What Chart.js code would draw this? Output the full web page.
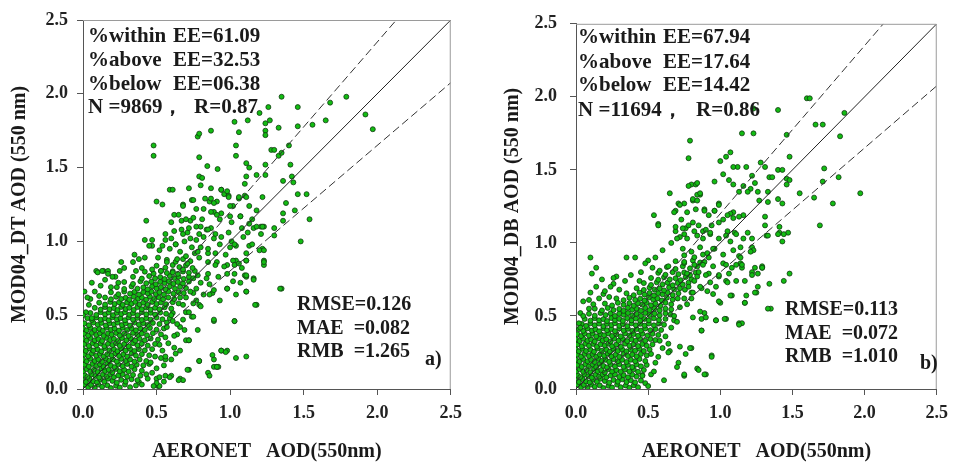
<!DOCTYPE html>
<html>
<head>
<meta charset="utf-8">
<script src="https://cdn.jsdelivr.net/npm/chart.js@4.4.1/dist/chart.umd.min.js"></script>
<style>
  html, body { margin: 0; padding: 0; background: #fff; }
  body { width: 956px; height: 463px; position: relative; overflow: hidden; }
  canvas { position: absolute; top: 0; }
</style>
</head>
<body>
<canvas id="dtChart" width="470" height="463" style="left:0px"></canvas>
<canvas id="dbChart" width="466" height="463" style="left:490px"></canvas>
<script>
// axis ticks (both panels)
const axisTicks = [0, 0.5, 1.0, 1.5, 2.0, 2.5];

// reference lines: 1:1 and expected error envelope +-(0.05 + 15%)
const oneToOne = [[0, 0], [2.5, 2.5]];
const eeUpper = [[0, 0.05], [2.13, 2.5]];
const eeLower = [[0.059, 0], [2.5, 2.075]];

// panel a) MOD04_DT - scattered points
const dtScatter = [
  [1.79,1.98],[1.68,1.94],[1.35,1.98],[1.46,1.91],[1.26,1.91],[1.92,1.86],[1.65,1.82],[1.03,1.81],[1.12,1.82],[1.20,1.87],
  [1.27,1.82],[1.46,1.78],[1.56,1.79],[1.97,1.76],[1.33,1.77],[1.06,1.74],[1.24,1.75],[1.24,1.72],[1.24,1.80],[0.87,1.75],
  [0.78,1.71],[0.79,1.73],[1.04,1.65],[0.48,1.65],[0.48,1.58],[0.79,1.57],[1.04,1.58],[1.33,1.58],[1.35,1.60],[1.40,1.65],
  [1.28,1.62],[1.30,1.62],[1.11,1.53],[1.13,1.50],[1.24,1.52],[1.41,1.52],[0.845,1.51],[0.915,1.49],[1.11,1.44],[1.18,1.45],
  [1.24,1.45],[1.42,1.44],[1.36,1.41],[1.43,1.40],[0.79,1.44],[0.81,1.43],[1.10,1.39],[0.80,1.38],[0.87,1.36],[0.59,1.35],
  [0.61,1.35],[0.72,1.36],[0.94,1.35],[0.96,1.32],[0.99,1.31],[1.22,1.30],[1.46,1.32],[1.52,1.32],[0.50,1.27],[0.54,1.25],
  [0.74,1.28],[0.86,1.27],[0.91,1.27],[1.06,1.29],[1.10,1.31],[1.02,1.24],[1.13,1.24],[1.18,1.21],[1.38,1.26],[1.44,1.21],
  [1.36,1.19],[0.68,1.25],[0.77,1.22],[0.82,1.22],[0.89,1.20],[0.94,1.19],[1.00,1.17],[1.07,1.17],[1.15,1.15],[1.36,1.14],
  [1.54,1.15],[0.43,1.14],[0.73,1.14],[0.60,1.13],[0.67,1.14],[0.80,1.10],[0.84,1.08],[0.87,1.09],[0.90,1.05],[1.16,1.09],
  [1.21,1.10],[1.30,1.09],[0.67,1.08],[0.71,1.06],[0.60,1.02],[0.63,0.98],[0.54,0.97],[0.47,0.97],[0.42,1.01],[1.48,1.00],
  [1.01,1.00],[0.94,1.03],[1.04,0.97],[1.22,0.95],[1.13,0.97],[0.80,0.96],[0.85,0.92],[0.76,0.92],[0.70,0.90],[0.35,0.91],
  [0.38,0.88],[0.26,0.86],[1.04,0.87],[1.11,0.87],[1.23,0.87],[0.98,0.84],[0.91,0.86],[1.10,0.77],[1.16,0.75],[0.98,0.68],
  [1.35,0.68],[1.04,0.64],[1.11,0.66],[1.18,0.57],[0.86,0.71],[0.88,0.65],[0.75,0.65],[0.79,0.57],[0.74,0.49],[0.89,0.46],
  [1.03,0.46],[0.61,0.46],[0.72,0.33],[0.70,0.33],[0.94,0.26],[0.98,0.26],[1.04,0.21],[1.11,0.22],[0.79,0.19],[0.89,0.20],
  [0.85,0.11],[0.86,0.09],[0.91,0.15],[0.92,0.15],[0.72,0.13],[0.66,0.07],[0.68,0.06],[0.60,0.09],[0.56,0.09],[0.51,0.02],
  [0.50,0.07],[0.56,0.20],[0.53,0.21],[0.66,0.26],[0.62,0.28],[0.01,0.66],[0.09,0.80],[0.14,0.80],[0.17,0.80],[0.22,0.76],
  [0.05,0.61],[0.98,1.34],[0.94,1.35],[0.99,1.30],[1.06,1.30],[1.11,1.30],[0.75,1.28],[0.83,1.29],[0.87,1.29],[0.89,1.26],
  [1.00,1.24],[0.68,1.24],[0.62,1.18],[0.65,1.18],[0.87,1.20],[0.91,1.18],[0.70,1.15],[0.75,1.16],[0.81,1.15],[0.93,1.15],
  [1.01,1.13],[1.07,1.17],[1.13,1.12],[1.18,1.10],[1.23,1.10],[0.56,1.05],[0.62,1.07],[0.68,1.05],[0.72,1.09],[0.77,1.10],
  [0.79,1.05],[0.85,1.08],[0.99,1.06],[1.08,1.09],[1.12,1.06],[1.21,1.05],[0.47,1.01],[0.56,1.01],[0.63,0.98],[0.69,1.00],
  [0.73,1.02],[0.77,1.01],[0.82,1.03],[0.89,1.02],[0.93,0.98],[1.00,0.96],[1.03,0.98],[1.09,1.03],[1.15,0.98],[0.45,0.97],
  [0.52,0.94],[0.59,0.95],[0.66,0.93],[0.74,0.96],[0.78,0.93],[0.85,0.95],[0.90,0.92],[0.97,0.91],[1.02,0.87],[1.11,0.92],
  [1.20,0.94],[0.51,0.89],[0.57,0.86],[0.64,0.88],[0.71,0.85],[0.79,0.89],[0.85,0.86],[0.90,0.84],[0.96,0.83],[1.03,0.84],
  [1.08,0.82],[1.23,0.84],[0.47,0.81],[0.53,0.80],[0.61,0.79],[0.68,0.81],[0.78,0.77],[0.85,0.78],[0.92,0.76],[0.98,0.78],
  [1.11,0.76],[1.22,1.10],[1.30,1.04],[1.23,0.94],[1.23,0.86],[1.11,0.87],[1.06,0.85],[1.03,0.78],[1.11,0.77],[1.16,0.74],
  [1.34,0.68],[0.98,0.68],[0.89,0.67],[1.02,0.73],[1.07,0.72],[1.11,0.66],[0.93,0.60],[1.17,0.57],[0.86,0.64],[0.77,0.60],
  [0.80,0.56],[0.89,0.47],[1.03,0.46],[0.68,0.57],[0.70,0.52],[0.75,0.49],[0.78,0.40],[0.69,0.40],[0.72,0.33],[0.64,0.37],
  [0.88,0.23],[0.94,0.26],[0.97,0.25],[0.79,0.19],[0.89,0.15],[0.91,0.15],[0.71,0.13],[0.65,0.06],[0.59,0.08],[0.55,0.05],
  [0.52,0.02],[0.50,0.04],[0.60,0.20],[0.56,0.22],[0.63,0.24],
  [0.02,0.52],[0.04,0.57],[0.06,0.72],[0.10,0.79],[0.13,0.80],[0.17,0.78],[0.08,0.66],[0.12,0.70],[0.03,0.62],[0.15,0.74],
  [0.20,0.76],[0.25,0.80],[0.28,0.82],[0.34,0.86],[0.36,0.80],[0.40,0.82],[0.42,0.89],[0.24,0.72],[0.19,0.69],[0.06,0.48],
  [0.00,0.50],[0.11,0.63],[0.48,0.02],[0.52,0.08],[0.50,0.14],[0.47,0.11],[0.55,0.16],[0.54,0.26],[0.58,0.31],[0.62,0.36],
  [0.66,0.42],[0.68,0.47],[0.64,0.44],[0.72,0.52],[0.75,0.58],[0.70,0.62],[0.77,0.68],[0.80,0.72],[0.82,0.64],[0.84,0.75],
  [0.73,0.66],[0.60,0.50],[0.57,0.42],[0.56,0.35],[0.52,0.30],[0.49,0.22],[0.46,0.18],[0.44,0.07],[0.40,0.03],[0.37,0.06]
];

// panel a) dense core (bottom-left mass)
const dtCore = [
  [0.01,0.03],[0.035,0.012],[0.055,0.028],[0.08,0.008],[0.105,0.03],[0.13,0.015],[0.165,0.025],[0.19,0.006],[0.225,0.022],[0.25,0.01],[0.285,0.03],[0.32,0.012],[0.36,0.024],
  [0.00,0.06],[0.02,0.048],[0.045,0.068],[0.07,0.052],[0.095,0.045],[0.12,0.064],[0.145,0.05],[0.17,0.07],[0.20,0.055],[0.23,0.043],[0.26,0.062],[0.29,0.05],[0.33,0.066],[0.38,0.048],
  [0.01,0.095],[0.03,0.082],[0.06,0.1],[0.085,0.088],[0.11,0.078],[0.135,0.097],[0.16,0.085],[0.185,0.1],[0.21,0.08],[0.24,0.092],[0.27,0.1],[0.30,0.083],[0.34,0.095],[0.39,0.09],[0.43,0.1],
  [0.00,0.12],[0.025,0.135],[0.05,0.118],[0.075,0.13],[0.10,0.115],[0.125,0.138],[0.15,0.122],[0.175,0.13],[0.20,0.113],[0.225,0.136],[0.25,0.12],[0.28,0.13],[0.31,0.118],[0.35,0.133],[0.40,0.124],
  [0.01,0.165],[0.04,0.152],[0.065,0.17],[0.09,0.155],[0.115,0.168],[0.14,0.15],[0.165,0.172],[0.19,0.158],[0.215,0.148],[0.24,0.167],[0.27,0.155],[0.30,0.17],[0.33,0.152],[0.365,0.165],[0.41,0.16],[0.45,0.17],
  [0.00,0.2],[0.025,0.188],[0.05,0.205],[0.08,0.19],[0.105,0.2],[0.13,0.185],[0.155,0.207],[0.18,0.192],[0.205,0.2],[0.23,0.186],[0.26,0.204],[0.29,0.19],[0.32,0.2],[0.35,0.185],[0.385,0.2],[0.43,0.19],
  [0.01,0.235],[0.035,0.222],[0.06,0.24],[0.09,0.226],[0.115,0.238],[0.14,0.22],[0.165,0.236],[0.195,0.228],[0.22,0.242],[0.245,0.224],[0.275,0.235],[0.30,0.22],[0.33,0.24],[0.36,0.226],[0.40,0.236],[0.45,0.228],
  [0.00,0.27],[0.02,0.258],[0.045,0.275],[0.07,0.26],[0.10,0.268],[0.125,0.255],[0.15,0.277],[0.18,0.262],[0.21,0.27],[0.235,0.256],[0.26,0.274],[0.29,0.26],[0.32,0.272],[0.35,0.258],[0.38,0.27],[0.42,0.262],[0.47,0.27],
  [0.01,0.305],[0.04,0.292],[0.065,0.31],[0.09,0.296],[0.12,0.308],[0.145,0.29],[0.17,0.306],[0.20,0.298],[0.225,0.31],[0.25,0.293],[0.28,0.305],[0.31,0.29],[0.34,0.31],[0.37,0.296],[0.40,0.306],[0.44,0.294],[0.49,0.305],
  [0.00,0.34],[0.025,0.328],[0.05,0.345],[0.08,0.33],[0.105,0.338],[0.13,0.325],[0.16,0.346],[0.185,0.332],[0.21,0.34],[0.24,0.326],[0.265,0.345],[0.295,0.33],[0.325,0.342],[0.355,0.328],[0.385,0.34],[0.42,0.33],[0.46,0.342],[0.51,0.335],
  [0.01,0.375],[0.035,0.362],[0.06,0.38],[0.09,0.366],[0.115,0.378],[0.14,0.36],[0.17,0.376],[0.195,0.368],[0.225,0.38],[0.25,0.363],[0.28,0.375],[0.31,0.36],[0.34,0.38],[0.37,0.366],[0.40,0.376],[0.435,0.364],[0.475,0.378],[0.53,0.37],
  [0.00,0.41],[0.025,0.398],[0.05,0.415],[0.08,0.4],[0.11,0.408],[0.135,0.395],[0.16,0.416],[0.19,0.402],[0.215,0.41],[0.245,0.396],[0.27,0.415],[0.30,0.4],[0.33,0.412],[0.36,0.398],[0.39,0.41],[0.42,0.4],[0.455,0.414],[0.50,0.402],[0.55,0.41],
  [0.01,0.445],[0.04,0.432],[0.07,0.45],[0.10,0.436],[0.125,0.448],[0.155,0.43],[0.18,0.446],[0.21,0.438],[0.235,0.45],[0.265,0.433],[0.29,0.445],[0.32,0.43],[0.35,0.45],[0.38,0.436],[0.41,0.446],[0.44,0.434],[0.475,0.448],[0.52,0.44],[0.57,0.45],
  [0.03,0.48],[0.06,0.468],[0.09,0.485],[0.12,0.47],[0.15,0.478],[0.175,0.465],[0.20,0.486],[0.23,0.472],[0.255,0.48],[0.285,0.466],[0.31,0.485],[0.34,0.47],[0.37,0.482],[0.40,0.468],[0.43,0.48],[0.46,0.47],[0.50,0.484],[0.54,0.472],[0.59,0.48],
  [0.05,0.515],[0.09,0.502],[0.12,0.52],[0.15,0.506],[0.175,0.518],[0.205,0.5],[0.23,0.516],[0.26,0.508],[0.285,0.52],[0.315,0.503],[0.34,0.515],[0.37,0.5],[0.40,0.52],[0.43,0.506],[0.46,0.516],[0.49,0.504],[0.525,0.518],[0.565,0.51],[0.61,0.515],
  [0.08,0.55],[0.12,0.538],[0.15,0.555],[0.18,0.54],[0.21,0.548],[0.235,0.535],[0.26,0.556],[0.29,0.542],[0.315,0.55],[0.345,0.536],[0.37,0.555],[0.40,0.54],[0.43,0.552],[0.46,0.538],[0.49,0.55],[0.52,0.54],[0.555,0.554],[0.60,0.545],
  [0.11,0.585],[0.15,0.572],[0.185,0.59],[0.215,0.576],[0.245,0.588],[0.27,0.57],[0.30,0.586],[0.33,0.578],[0.355,0.59],[0.385,0.573],[0.41,0.585],[0.44,0.57],[0.47,0.59],[0.50,0.576],[0.53,0.586],[0.565,0.574],[0.61,0.588],[0.65,0.58],
  [0.15,0.62],[0.19,0.608],[0.225,0.625],[0.26,0.61],[0.29,0.618],[0.315,0.605],[0.345,0.626],[0.375,0.612],[0.40,0.62],[0.43,0.606],[0.455,0.625],[0.485,0.61],[0.515,0.622],[0.545,0.608],[0.58,0.62],[0.62,0.61],[0.66,0.62],
  [0.19,0.655],[0.24,0.642],[0.28,0.66],[0.32,0.646],[0.35,0.658],[0.38,0.64],[0.41,0.656],[0.44,0.648],[0.465,0.66],[0.495,0.643],[0.52,0.655],[0.55,0.64],[0.58,0.66],[0.615,0.646],[0.65,0.656],[0.685,0.65],
  [0.23,0.69],[0.28,0.678],[0.33,0.695],[0.37,0.68],[0.41,0.688],[0.44,0.675],[0.47,0.696],[0.50,0.682],[0.53,0.69],[0.56,0.676],[0.59,0.695],[0.625,0.68],[0.66,0.692],[0.70,0.684],
  [0.28,0.725],[0.34,0.712],[0.39,0.73],[0.43,0.716],[0.465,0.728],[0.495,0.71],[0.525,0.726],[0.555,0.718],[0.585,0.73],[0.615,0.713],[0.645,0.725],[0.68,0.715],[0.72,0.728],
  [0.34,0.76],[0.40,0.748],[0.45,0.765],[0.49,0.75],[0.525,0.758],[0.555,0.745],[0.59,0.766],[0.62,0.752],[0.65,0.76],[0.685,0.746],[0.72,0.76],[0.75,0.75],
  [0.42,0.795],[0.48,0.782],[0.53,0.8],[0.57,0.786],[0.61,0.798],[0.645,0.78],[0.68,0.796],[0.72,0.788],[0.76,0.8],
  [0.50,0.835],[0.56,0.822],[0.61,0.84],[0.655,0.826],[0.70,0.838],[0.745,0.82],
  [0.57,0.875],[0.63,0.862],[0.68,0.88],[0.73,0.866]
];

// panel b) MOD04_DB - scattered points
const dbScatter = [
  [1.60,1.99],[1.62,1.99],[1.40,1.91],[1.86,1.89],[1.23,1.92],[1.66,1.81],[1.71,1.81],[1.15,1.75],[1.23,1.75],[1.83,1.73],
  [0.79,1.70],[0.78,1.58],[1.46,1.74],[1.04,1.59],[1.00,1.56],[1.07,1.62],[1.48,1.59],[1.28,1.55],[1.12,1.52],[1.09,1.52],
  [1.18,1.52],[1.31,1.52],[1.40,1.50],[1.43,1.50],[1.72,1.51],[1.02,1.47],[1.22,1.46],[1.34,1.45],[1.36,1.45],[1.46,1.44],
  [1.48,1.43],[1.82,1.45],[1.06,1.43],[0.96,1.42],[1.46,1.40],[1.71,1.42],[0.80,1.40],[0.83,1.40],[1.09,1.40],[1.16,1.39],
  [1.24,1.41],[1.21,1.37],[1.13,1.35],[1.19,1.35],[1.26,1.35],[1.33,1.35],[0.65,1.34],[0.86,1.33],[0.84,1.33],[1.55,1.34],
  [1.97,1.34],[1.65,1.31],[1.40,1.30],[1.43,1.27],[1.78,1.27],[0.71,1.27],[0.75,1.27],[0.81,1.29],[0.99,1.27],[1.33,1.28],
  [1.27,1.29],[0.54,1.19],[0.57,1.13],[0.69,1.22],[0.83,1.23],[0.89,1.23],[0.96,1.22],[1.09,1.21],[1.07,1.20],[1.16,1.19],
  [1.31,1.18],[1.69,1.12],[1.41,1.11],[1.31,1.12],[1.32,1.05],[1.33,1.05],[1.47,1.07],[1.41,1.07],[1.43,1.01],[0.69,1.08],
  [0.75,1.06],[0.82,1.08],[0.88,1.08],[0.93,1.06],[1.05,1.08],[1.10,1.07],[1.19,1.07],[1.22,0.97],[1.23,0.95],[1.14,0.97],
  [1.07,1.01],[1.14,0.86],[1.15,0.83],[1.29,0.83],[1.22,0.80],[1.26,0.79],[1.48,0.79],[1.34,0.72],[1.44,0.74],[1.04,0.74],
  [1.08,0.64],[1.18,0.64],[1.25,0.66],[1.00,0.59],[1.17,0.59],[0.80,0.66],[0.91,0.67],[0.97,0.70],[1.35,0.55],[0.89,0.52],
  [0.87,0.48],[0.97,0.47],[1.04,0.48],[1.13,0.45],[1.15,0.45],[0.87,0.40],[0.80,0.28],[0.76,0.24],[0.71,0.18],[0.70,0.15],
  [0.94,0.23],[0.84,0.14],[0.90,0.10],[0.75,0.09],[0.61,0.06],[0.64,0.31],[0.65,0.26],[0.10,0.90],[0.14,0.83],[0.11,0.79],
  [0.35,0.90],[0.41,0.90],[0.50,0.88],[0.28,0.77],[0.53,0.83],[0.58,0.81],[0.64,0.84],[0.26,0.72],[0.19,0.65],[0.23,0.63],
  [0.09,0.61],[0.03,0.52],[0.05,0.60],
  [0.57,1.12],[0.68,1.21],[0.72,1.26],[0.77,1.21],[0.81,1.30],[0.84,1.29],[0.86,1.34],[0.84,1.41],[0.78,1.39],[0.89,1.22],
  [0.92,1.19],[0.96,1.22],[0.99,1.26],[0.73,1.16],[0.69,1.11],[0.76,1.10],[0.81,1.14],[0.85,1.12],[0.90,1.09],[0.94,1.12],
  [0.99,1.14],[1.02,1.16],[1.05,1.19],[1.09,1.17],[1.13,1.18],[0.72,1.04],[0.77,1.03],[0.84,1.05],[0.88,1.03],[0.93,1.07],
  [0.99,1.03],[1.04,1.05],[1.11,1.06],[1.16,1.03],[1.22,1.03],[0.74,0.96],[0.80,0.94],[0.86,0.97],[0.91,0.93],[0.96,0.96],
  [1.02,0.92],[1.09,0.95],[1.13,0.91],[1.21,0.94],[0.75,0.87],[0.82,0.85],[0.89,0.87],[0.95,0.84],[1.02,0.86],[1.08,0.83],
  [1.15,0.85],[0.77,0.79],[0.84,0.77],[0.92,0.79],[0.99,0.77],[1.06,0.79],[1.24,0.83],[1.29,0.84],[1.40,1.06],[1.44,1.06],
  [0.94,0.22],[0.85,0.13],[0.89,0.10],[0.75,0.10],[0.79,0.28],[0.72,0.29],[1.03,0.48],[1.13,0.44],[0.97,0.47],[0.86,0.53],
  [0.90,0.49],[0.81,0.49],[0.87,0.40],[0.68,0.47],[1.33,0.55],[1.24,0.66],[1.17,0.59],[1.07,0.64],[0.99,0.60],[0.95,0.65],
  [1.05,0.73],[1.11,0.74],[1.17,0.74],[1.26,0.70],[1.22,0.78],[1.11,0.85],[1.14,0.90],[1.04,0.85],[0.99,0.78],[0.93,0.73],
  [0.87,0.69],[0.81,0.66],[0.77,0.58],[1.29,0.83],
  [0.02,0.45],[0.05,0.50],[0.09,0.55],[0.03,0.42],[0.12,0.58],[0.16,0.62],[0.10,0.66],[0.14,0.70],[0.20,0.67],[0.24,0.70],
  [0.30,0.68],[0.34,0.74],[0.38,0.78],[0.45,0.80],[0.48,0.86],[0.55,0.90],[0.60,0.95],[0.66,1.00],[0.70,1.03],[0.74,1.10],
  [0.78,1.12],[0.18,0.75],[0.26,0.76],[0.44,0.74],[0.48,0.04],[0.52,0.10],[0.55,0.18],[0.50,0.02],[0.57,0.22],[0.60,0.28],
  [0.62,0.36],[0.66,0.42],[0.68,0.50],[0.72,0.56],[0.75,0.62],[0.78,0.70],[0.82,0.74],[0.85,0.80],[0.88,0.85],[0.92,0.90],
  [0.95,0.96],[0.58,0.33],[0.54,0.12],[0.46,0.09],[0.64,0.25],[0.70,0.46],[0.80,0.62],[0.86,0.70],[0.90,0.78]
];

// panel b) dense core (bottom-left mass)
const dbCore = [
  [0.01,0.03],[0.035,0.012],[0.055,0.028],[0.08,0.008],[0.105,0.03],[0.13,0.015],[0.165,0.025],[0.19,0.006],[0.225,0.022],[0.25,0.01],[0.285,0.03],[0.31,0.012],[0.345,0.024],[0.37,0.008],[0.40,0.026],[0.43,0.012],
  [0.00,0.06],[0.02,0.048],[0.045,0.068],[0.07,0.052],[0.095,0.045],[0.12,0.064],[0.145,0.05],[0.17,0.07],[0.20,0.055],[0.23,0.043],[0.26,0.062],[0.29,0.05],[0.32,0.066],[0.35,0.048],[0.38,0.06],[0.41,0.045],[0.45,0.058],
  [0.01,0.095],[0.03,0.082],[0.06,0.1],[0.085,0.088],[0.11,0.078],[0.135,0.097],[0.16,0.085],[0.185,0.1],[0.21,0.08],[0.24,0.092],[0.27,0.1],[0.30,0.083],[0.33,0.095],[0.36,0.08],[0.39,0.098],[0.42,0.085],[0.46,0.095],
  [0.00,0.12],[0.025,0.135],[0.05,0.118],[0.075,0.13],[0.10,0.115],[0.125,0.138],[0.15,0.122],[0.175,0.13],[0.20,0.113],[0.225,0.136],[0.25,0.12],[0.28,0.13],[0.31,0.118],[0.34,0.133],[0.37,0.12],[0.40,0.135],[0.43,0.118],[0.47,0.13],
  [0.01,0.165],[0.04,0.152],[0.065,0.17],[0.09,0.155],[0.115,0.168],[0.14,0.15],[0.165,0.172],[0.19,0.158],[0.215,0.148],[0.24,0.167],[0.27,0.155],[0.30,0.17],[0.33,0.152],[0.36,0.165],[0.39,0.15],[0.42,0.168],[0.45,0.155],[0.49,0.165],
  [0.00,0.2],[0.025,0.188],[0.05,0.205],[0.08,0.19],[0.105,0.2],[0.13,0.185],[0.155,0.207],[0.18,0.192],[0.205,0.2],[0.23,0.186],[0.26,0.204],[0.29,0.19],[0.32,0.2],[0.35,0.185],[0.38,0.2],[0.41,0.19],[0.44,0.205],[0.48,0.192],
  [0.01,0.235],[0.035,0.222],[0.06,0.24],[0.09,0.226],[0.115,0.238],[0.14,0.22],[0.165,0.236],[0.195,0.228],[0.22,0.242],[0.245,0.224],[0.275,0.235],[0.30,0.22],[0.33,0.24],[0.36,0.226],[0.39,0.236],[0.42,0.224],[0.45,0.24],[0.49,0.23],[0.52,0.24],
  [0.00,0.27],[0.02,0.258],[0.045,0.275],[0.07,0.26],[0.10,0.268],[0.125,0.255],[0.15,0.277],[0.18,0.262],[0.21,0.27],[0.235,0.256],[0.26,0.274],[0.29,0.26],[0.32,0.272],[0.35,0.258],[0.38,0.27],[0.41,0.262],[0.44,0.275],[0.47,0.26],[0.51,0.27],
  [0.01,0.305],[0.04,0.292],[0.065,0.31],[0.09,0.296],[0.12,0.308],[0.145,0.29],[0.17,0.306],[0.20,0.298],[0.225,0.31],[0.25,0.293],[0.28,0.305],[0.31,0.29],[0.34,0.31],[0.37,0.296],[0.40,0.306],[0.43,0.294],[0.46,0.308],[0.49,0.296],[0.53,0.305],
  [0.00,0.34],[0.025,0.328],[0.05,0.345],[0.08,0.33],[0.105,0.338],[0.13,0.325],[0.16,0.346],[0.185,0.332],[0.21,0.34],[0.24,0.326],[0.265,0.345],[0.295,0.33],[0.325,0.342],[0.355,0.328],[0.385,0.34],[0.415,0.33],[0.445,0.342],[0.48,0.33],[0.515,0.342],[0.55,0.335],
  [0.01,0.375],[0.035,0.362],[0.06,0.38],[0.09,0.366],[0.115,0.378],[0.14,0.36],[0.17,0.376],[0.195,0.368],[0.225,0.38],[0.25,0.363],[0.28,0.375],[0.31,0.36],[0.34,0.38],[0.37,0.366],[0.40,0.376],[0.43,0.364],[0.46,0.378],[0.495,0.366],[0.53,0.378],[0.57,0.37],
  [0.02,0.41],[0.05,0.398],[0.08,0.415],[0.11,0.4],[0.135,0.408],[0.16,0.395],[0.19,0.416],[0.215,0.402],[0.245,0.41],[0.27,0.396],[0.30,0.415],[0.33,0.4],[0.36,0.412],[0.39,0.398],[0.42,0.41],[0.45,0.4],[0.48,0.414],[0.515,0.402],[0.55,0.41],[0.59,0.404],
  [0.04,0.445],[0.07,0.432],[0.10,0.45],[0.13,0.436],[0.16,0.448],[0.19,0.43],[0.215,0.446],[0.245,0.438],[0.27,0.45],[0.30,0.433],[0.325,0.445],[0.355,0.43],[0.385,0.45],[0.415,0.436],[0.445,0.446],[0.475,0.434],[0.505,0.448],[0.54,0.436],[0.575,0.448],[0.61,0.44],
  [0.06,0.48],[0.10,0.468],[0.13,0.485],[0.16,0.47],[0.19,0.478],[0.215,0.465],[0.245,0.486],[0.27,0.472],[0.30,0.48],[0.325,0.466],[0.355,0.485],[0.385,0.47],[0.415,0.482],[0.445,0.468],[0.475,0.48],[0.505,0.47],[0.54,0.484],[0.575,0.472],[0.62,0.48],
  [0.09,0.515],[0.13,0.502],[0.17,0.52],[0.205,0.506],[0.24,0.518],[0.27,0.5],[0.30,0.516],[0.33,0.508],[0.36,0.52],[0.39,0.503],[0.42,0.515],[0.45,0.5],[0.48,0.52],[0.51,0.506],[0.545,0.516],[0.58,0.504],[0.62,0.518],[0.655,0.51],
  [0.13,0.55],[0.18,0.538],[0.22,0.555],[0.26,0.54],[0.30,0.548],[0.33,0.535],[0.36,0.556],[0.39,0.542],[0.42,0.55],[0.45,0.536],[0.48,0.555],[0.51,0.54],[0.545,0.552],[0.58,0.538],[0.62,0.55],[0.66,0.545],
  [0.20,0.585],[0.25,0.572],[0.29,0.59],[0.33,0.576],[0.37,0.588],[0.40,0.57],[0.43,0.586],[0.46,0.578],[0.49,0.59],[0.52,0.573],[0.55,0.585],[0.585,0.57],[0.62,0.59],[0.66,0.58],
  [0.28,0.62],[0.33,0.608],[0.37,0.625],[0.41,0.61],[0.445,0.618],[0.475,0.605],[0.505,0.626],[0.535,0.612],[0.565,0.62],[0.595,0.606],[0.63,0.625],[0.67,0.612],[0.705,0.62],
  [0.35,0.655],[0.40,0.642],[0.44,0.66],[0.475,0.646],[0.51,0.658],[0.54,0.64],[0.57,0.656],[0.60,0.648],[0.635,0.66],[0.67,0.643],[0.71,0.655],
  [0.42,0.69],[0.47,0.678],[0.51,0.695],[0.545,0.68],[0.58,0.688],[0.61,0.675],[0.645,0.696],[0.68,0.682],[0.72,0.69],[0.755,0.68],
  [0.47,0.725],[0.52,0.712],[0.56,0.73],[0.60,0.716],[0.635,0.728],[0.67,0.71],[0.705,0.726],[0.74,0.715],[0.78,0.728],
  [0.52,0.76],[0.57,0.748],[0.61,0.765],[0.65,0.75],[0.69,0.758],[0.725,0.745],[0.76,0.766],[0.80,0.752],
  [0.57,0.795],[0.62,0.782],[0.67,0.8],[0.71,0.786],[0.75,0.798],[0.79,0.78],[0.83,0.796],
  [0.63,0.835],[0.69,0.822],[0.74,0.84],[0.79,0.826],[0.84,0.838],
  [0.69,0.875],[0.75,0.862],[0.81,0.88],[0.86,0.866],
  [0.75,0.915],[0.82,0.902],[0.88,0.92]
];

// statistics text
const dtTopText = [['%within', 'EE=61.09'], ['%above', 'EE=32.53'], ['%below', 'EE=06.38'], ['N =9869，', 'R=0.87']];
const dtBottomText = ['RMSE=0.126', 'MAE  =0.082', 'RMB  =1.265'];
const dbTopText = [['%within', 'EE=67.94'], ['%above', 'EE=17.64'], ['%below', 'EE=14.42'], ['N =11694，', 'R=0.86']];
const dbBottomText = ['RMSE=0.113', 'MAE  =0.072', 'RMB  =1.010'];

const SERIF = '"Liberation Serif", "Times New Roman", serif';

const toXY = arr => arr.map(p => ({ x: p[0], y: p[1] }));

// draws the grey top/right frame and the statistics text
const panelText = {
  id: 'panelText',
  afterDatasetsDraw(chart, args, opts) {
    const ctx = chart.ctx;
    const a = chart.chartArea;
    ctx.save();
    ctx.strokeStyle = '#9a9a9a';
    ctx.lineWidth = 1;
    ctx.beginPath();
    ctx.moveTo(a.left, a.top + 0.5);
    ctx.lineTo(a.right - 0.5, a.top + 0.5);
    ctx.lineTo(a.right - 0.5, a.bottom);
    ctx.stroke();

    ctx.fillStyle = '#1a1a1a';
    ctx.textBaseline = 'middle';
    ctx.font = 'bold 21px ' + SERIF;
    opts.top.forEach((row, i) => {
      const y = a.top + opts.topY[i];
      ctx.fillText(row[0], a.left + opts.topX, y);
      ctx.fillText(row[1], a.left + opts.topX + (i === 3 ? opts.rX : opts.eeX), y);
    });
    ctx.font = 'bold 20px ' + SERIF;
    opts.bottom.forEach((t, i) => {
      ctx.fillText(t, a.left + opts.botX, a.top + opts.botY[i]);
    });
    ctx.fillText(opts.tag, a.left + opts.tagX, a.top + opts.tagY);
    ctx.restore();
  }
};

function makePanel(id, opt) {
  const lineStyle = { type: 'line', showLine: true, pointRadius: 0, borderWidth: 1, fill: false };
  new Chart(document.getElementById(id), {
    type: 'scatter',
    data: {
      datasets: [
        Object.assign({ data: toXY(oneToOne), borderColor: '#222' }, lineStyle),
        Object.assign({ data: toXY(eeUpper), borderColor: '#333', borderDash: [8, 4] }, lineStyle),
        Object.assign({ data: toXY(eeLower), borderColor: '#333', borderDash: [8, 4] }, lineStyle),
        {
          data: toXY(opt.core).concat(toXY(opt.scatter)),
          pointRadius: 2.5,
          pointBackgroundColor: '#12bc12',
          pointBorderColor: '#123812',
          pointBorderWidth: 0.8
        }
      ]
    },
    options: {
      responsive: false,
      animation: false,
      events: [],
      layout: { padding: { top: 20, right: opt.padRight, left: 0, bottom: 0 } },
      plugins: {
        legend: { display: false },
        tooltip: { enabled: false },
        panelText: opt.text
      },
      scales: {
        x: {
          type: 'linear', min: 0, max: 2.5,
          afterFit: s => { s.height = 74; },
          afterBuildTicks: s => { s.ticks = axisTicks.map(v => ({ value: v })); },
          ticks: {
            callback: v => v.toFixed(1),
            font: { family: SERIF, size: 18, weight: 'bold' },
            color: '#222',
            padding: 8,
            maxRotation: 0
          },
          grid: { drawOnChartArea: false, drawTicks: true, tickLength: 6, color: '#555' },
          border: { color: '#555', width: 1 },
          title: {
            display: true,
            text: 'AERONET   AOD(550nm)',
            font: { family: SERIF, size: 20, weight: 'bold', lineHeight: 1 },
            color: '#1a1a1a',
            padding: { top: 0, bottom: 1 }
          }
        },
        y: {
          type: 'linear', min: 0, max: 2.5,
          afterFit: s => { s.width = opt.yWidth; },
          afterBuildTicks: s => { s.ticks = axisTicks.map(v => ({ value: v })); },
          ticks: {
            callback: v => v.toFixed(1),
            font: { family: SERIF, size: 18, weight: 'bold' },
            color: '#222',
            padding: opt.yTickPad
          },
          grid: { drawOnChartArea: false, drawTicks: true, tickLength: 6, color: '#555' },
          border: { color: '#555', width: 1 },
          title: {
            display: true,
            text: opt.yTitle,
            font: { family: SERIF, size: 20, weight: 'bold', lineHeight: 1 },
            color: '#1a1a1a',
            padding: { top: opt.yTitlePad, bottom: 0 }
          }
        }
      }
    },
    plugins: [panelText]
  });
}

makePanel('dtChart', {
  scatter: dtScatter, core: dtCore,
  yTitle: 'MOD04_DT AOD (550 nm)',
  yWidth: 83, padRight: 18, yTickPad: 9, yTitlePad: 10,
  text: {
    top: dtTopText, bottom: dtBottomText, tag: 'a)',
    topX: 5, eeX: 85, rX: 106, topY: [17, 41, 65, 88],
    botX: 214, botY: [285, 309, 332], tagX: 342, tagY: 340
  }
});

makePanel('dbChart', {
  scatter: dbScatter, core: dbCore,
  yTitle: 'MOD04_DB AOD (550 nm)',
  yWidth: 86, padRight: 12, yTickPad: 13, yTitlePad: 13,
  text: {
    top: dbTopText, bottom: dbBottomText, tag: 'b)',
    topX: 2, eeX: 85, rX: 118, topY: [14, 39, 62, 87],
    botX: 209, botY: [286, 310, 333], tagX: 344, tagY: 340
  }
});
</script>
</body>
</html>
